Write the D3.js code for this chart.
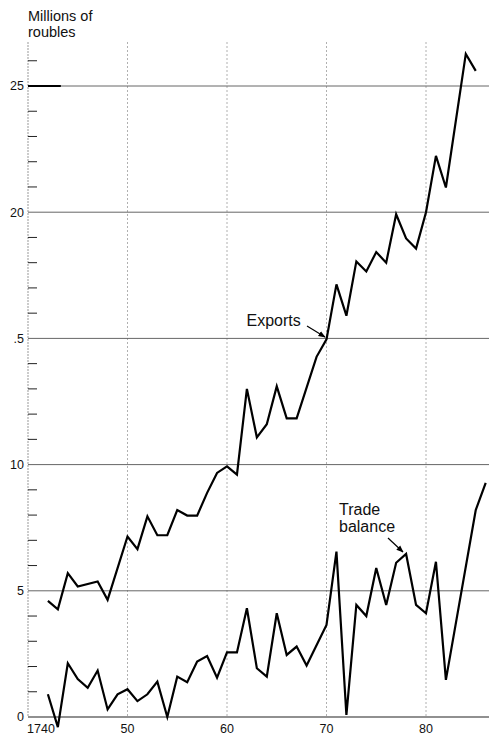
<!DOCTYPE html>
<html>
<head>
<meta charset="utf-8">
<script src="https://cdn.jsdelivr.net/npm/d3@7/dist/d3.min.js"></script>
<style>
  html, body { margin: 0; padding: 0; background: #fff; }
  svg { display: block; font-family: "Liberation Sans", Arial, Helvetica, sans-serif; }
</style>
</head>
<body>
<script>
// ---- data (millions of roubles) ----
const exportYears = [1742,1743,1744,1745,1747,1748,1750,1751,1752,1753,1754,1755,1756,1757,1758,1759,1760,1761,1762,1763,1764,1765,1766,1767,1769,1770,1771,1772,1773,1774,1775,1776,1777,1778,1779,1780,1781,1782,1784,1785];
const exportValues = [4.6,4.27,5.7,5.17,5.37,4.64,7.15,6.65,7.95,7.2,7.2,8.2,7.98,7.98,8.88,9.67,9.93,9.6,13.0,11.08,11.6,13.1,11.83,11.83,14.27,14.96,17.14,15.9,18.05,17.65,18.42,18.0,19.92,18.96,18.56,20.0,22.23,20.98,26.27,25.6];

const balanceYears = [1742,1743,1744,1745,1746,1747,1748,1749,1750,1751,1752,1753,1754,1755,1756,1757,1758,1759,1760,1761,1762,1763,1764,1765,1766,1767,1768,1770,1771,1772,1773,1774,1775,1776,1777,1778,1779,1780,1781,1782,1785,1786];
const balanceValues = [0.9,-0.4,2.13,1.5,1.16,1.84,0.3,0.9,1.1,0.63,0.9,1.4,0.0,1.6,1.38,2.2,2.42,1.56,2.56,2.56,4.31,1.93,1.6,4.11,2.46,2.79,2.04,3.65,6.55,0.08,4.44,4.0,5.9,4.44,6.11,6.46,4.44,4.11,6.15,1.47,8.2,9.28];

const yGridValues = [5,10,15,20,25];
const yTickLabels = ["5","10",".5","20","25"];
const yMinorTicks = d3.range(1, 27);
const xGridYears = [1750,1760,1770,1780];
const xTickYears = [1740,1750,1760,1770,1780];
const xTickLabels = ["1740","50","60","70","80"];
const yTitle = ["Millions of", "roubles"];

// ---- drawing ----
const W = 489, H = 736;
const svg = d3.select("body").append("svg").attr("width", W).attr("height", H);
svg.append("rect").attr("width", W).attr("height", H).attr("fill", "#fff");

const x = d3.scaleLinear().domain([1740, 1790]).range([28, 28 + 497.5]);
const y = d3.scaleLinear().domain([0, 25]).range([717, 86]);
const plotTop = 42;

// vertical gridlines (dotted, faint)
svg.append("g").selectAll("line").data(xGridYears).join("line")
  .attr("x1", d => x(d)).attr("x2", d => x(d))
  .attr("y1", plotTop).attr("y2", y(0))
  .attr("stroke", "#b0b0b0").attr("stroke-width", 1)
  .attr("stroke-dasharray", "2,2");

// y axis line (dotted)
svg.append("line").attr("x1", x(1740)).attr("x2", x(1740))
  .attr("y1", plotTop).attr("y2", y(0))
  .attr("stroke", "#999").attr("stroke-width", 1).attr("stroke-dasharray", "2,1");

// horizontal gridlines
svg.append("g").selectAll("line").data(yGridValues).join("line")
  .attr("x1", x(1740)).attr("x2", W)
  .attr("y1", d => y(d)).attr("y2", d => y(d))
  .attr("stroke", "#666").attr("stroke-width", 1);
svg.append("line").attr("x1", x(1740)).attr("x2", x(1743.3))
  .attr("y1", y(25)).attr("y2", y(25))
  .attr("stroke", "#000").attr("stroke-width", 2);

// minor ticks
svg.append("g").selectAll("line").data(yMinorTicks.filter(v => v % 5 !== 0)).join("line")
  .attr("x1", x(1740)).attr("x2", x(1740) + 9)
  .attr("y1", d => y(d)).attr("y2", d => y(d))
  .attr("stroke", "#222").attr("stroke-width", 1);

// x axis baseline
svg.append("line").attr("x1", x(1740)).attr("x2", W)
  .attr("y1", y(0)).attr("y2", y(0))
  .attr("stroke", "#222").attr("stroke-width", 1.2);

// y labels
svg.append("g").selectAll("text").data(yGridValues.map((v,i)=>[v,i]).concat([[0,-1]])).join("text")
  .attr("x", 24).attr("y", d => y(d[0]) + 4.3)
  .attr("text-anchor", "end").attr("font-size", 12.5).attr("fill", "#111")
  .text(d => d[1] < 0 ? "0" : yTickLabels[d[1]]);

// x labels
svg.append("g").selectAll("text").data(xTickYears).join("text")
  .attr("x", (d,i) => i === 0 ? x(d) + 13 : x(d))
  .attr("y", 733)
  .attr("text-anchor", "middle").attr("font-size", 12.5).attr("fill", "#111")
  .text((d,i) => xTickLabels[i]);

// title
svg.append("g").selectAll("text").data(yTitle).join("text")
  .attr("x", 28).attr("y", (d,i) => 21 + i * 16)
  .attr("font-size", 14.5).attr("fill", "#111")
  .text(d => d);

// lines
const line = d3.line().x(d => x(d[0])).y(d => y(d[1]));
svg.append("path").datum(exportYears.map((yr,i) => [yr, exportValues[i]]))
  .attr("d", line).attr("fill", "none").attr("stroke", "#000")
  .attr("stroke-width", 2.2).attr("stroke-linejoin", "miter");
svg.append("path").datum(balanceYears.map((yr,i) => [yr, balanceValues[i]]))
  .attr("d", line).attr("fill", "none").attr("stroke", "#000")
  .attr("stroke-width", 2.2).attr("stroke-linejoin", "miter");

// annotations
const defs = svg.append("defs");
defs.append("marker").attr("id", "ah").attr("viewBox", "0 0 10 10")
  .attr("refX", 9).attr("refY", 5).attr("markerWidth", 6).attr("markerHeight", 6)
  .attr("orient", "auto")
  .append("path").attr("d", "M0,1 L10,5 L0,9 Z").attr("fill", "#000");

svg.append("text").attr("x", 246.5).attr("y", 326).attr("font-size", 16).attr("fill", "#111").text("Exports");
svg.append("line").attr("x1", 307).attr("y1", 326).attr("x2", 325).attr("y2", 337)
  .attr("stroke", "#000").attr("stroke-width", 1.2).attr("marker-end", "url(#ah)");

svg.append("text").attr("x", 339).attr("y", 514.5).attr("font-size", 16).attr("fill", "#111").text("Trade");
svg.append("text").attr("x", 339).attr("y", 531.5).attr("font-size", 16).attr("fill", "#111").text("balance");
svg.append("line").attr("x1", 388).attr("y1", 538).attr("x2", 403).attr("y2", 552)
  .attr("stroke", "#000").attr("stroke-width", 1.2).attr("marker-end", "url(#ah)");
</script>
</body>
</html>
